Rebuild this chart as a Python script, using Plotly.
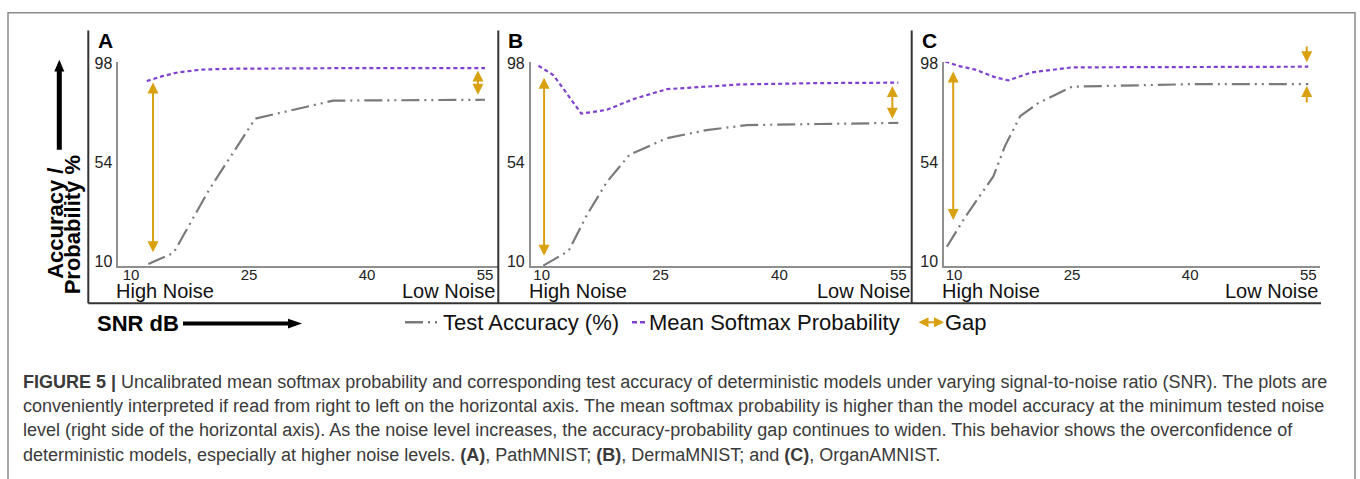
import plotly.graph_objects as go

W, H = 1360, 479

# ---------------- data ----------------
x_ticks = [10, 25, 40, 55]
y_ticks = [10, 54, 98]

# Panel A (PathMNIST)
acc_A_x = [12.2, 15.4, 20, 23, 25.8, 35.7, 45, 55]
acc_A_y = [8.9, 13.8, 42.4, 58.3, 73.6, 81.6, 81.8, 82.0]
prob_A_x = [12.0, 14, 16, 19, 23, 30, 40, 55]
prob_A_y = [90.3, 92.5, 94.2, 95.4, 95.8, 96.0, 96.1, 96.1]
gap_A_x = [12.8, 54.1]
gap_A_lo = [13.5, 83.6]
gap_A_hi = [89.7, 95.0]

# Panel B (DermaMNIST)
acc_B_x = [10.2, 13.4, 15.7, 18.2, 21.1, 25.8, 30.8, 35.9, 45, 55]
acc_B_y = [8.2, 14.7, 30.7, 45.3, 57.6, 64.9, 68.5, 70.7, 71.2, 71.7]
prob_B_x = [9.6, 11.5, 15, 18.2, 21.6, 25.8, 35, 45, 55]
prob_B_y = [97.1, 92.9, 75.8, 77.5, 82.3, 86.7, 88.8, 89.4, 89.6]
gap_B_x = [10.3, 54.25]
gap_B_lo = [11.9, 72.9]
gap_B_hi = [91.8, 88.1]

# Panel C (OrganAMNIST)
acc_C_x = [9.1, 11.4, 15, 16.5, 18.4, 20.7, 25, 39.8, 55]
acc_C_y = [16.6, 29.7, 47.9, 61.6, 74.7, 80.5, 87.8, 88.9, 88.9]
prob_C_x = [8.9, 10.5, 12.7, 15.2, 16.9, 19.9, 25, 40, 55]
prob_C_y = [99.0, 97.1, 95.4, 92.0, 90.6, 94.2, 96.4, 96.7, 96.7]
gap_C_x = [9.9, 54.8]
gap_C_lo = [27.8, 88.1]
gap_C_hi = [94.6, 98.7]

panel_letters = ["A", "B", "C"]
legend_labels = ["Test Accuracy (%)", "Mean Softmax Probability", "Gap"]
caption_lines = [
    "<b>FIGURE 5 |</b> Uncalibrated mean softmax probability and corresponding test accuracy of deterministic models under varying signal-to-noise ratio (SNR). The plots are",
    "conveniently interpreted if read from right to left on the horizontal axis. The mean softmax probability is higher than the model accuracy at the minimum tested noise",
    "level (right side of the horizontal axis). As the noise level increases, the accuracy-probability gap continues to widen. This behavior shows the overconfidence of",
    "deterministic models, especially at higher noise levels. <b>(A)</b>, PathMNIST; <b>(B)</b>, DermaMNIST; and <b>(C)</b>, OrganAMNIST.",
]

# ---------------- style ----------------
FONT = "Liberation Sans, Arial, Helvetica, sans-serif"
GRAY = "#7a7a7a"
PURPLE = "#8040d0"
GOLD = "#d9a00f"
ACC_DASH = "18px,5px,2px,5px,2px,5px"
PROB_DASH = "4px,3px"


def px(x):
    return x / W


def py(y):
    return 1 - y / H


# panel geometry in pixels: axis start, axis end, tick10 px, tick55 px, frame left
panels = [
    dict(a0=118.3, a1=497.5, t10=131.0, t55=485.0, frame=88.3),
    dict(a0=530.7, a1=911.7, t10=541.7, t55=898.3, frame=498.3),
    dict(a0=944.0, a1=1320.0, t10=954.0, t55=1308.3, frame=911.7),
]
Y_TOP, Y_BOT = 57.0, 265.7
Y98, Y10 = 59.0, 261.0
yscale = (Y10 - Y98) / 88.0
y_range = [10 - (Y_BOT - Y10) / yscale, 98 + (Y98 - Y_TOP) / yscale]

data = [
    (acc_A_x, acc_A_y, prob_A_x, prob_A_y, gap_A_x, gap_A_lo, gap_A_hi),
    (acc_B_x, acc_B_y, prob_B_x, prob_B_y, gap_B_x, gap_B_lo, gap_B_hi),
    (acc_C_x, acc_C_y, prob_C_x, prob_C_y, gap_C_x, gap_C_lo, gap_C_hi),
]

fig = go.Figure()
annotations = []
shapes = []

for i, (p, d) in enumerate(zip(panels, data)):
    sfx = "" if i == 0 else str(i + 1)
    xs = (p["t55"] - p["t10"]) / 45.0
    x_range = [10 - (p["t10"] - p["a0"]) / xs, 55 + (p["a1"] - p["t55"]) / xs]
    ax_common = dict(showgrid=False, zeroline=False, showline=True, linecolor="#8f8f8f",
                     linewidth=1.5, ticks="")
    fig.layout["xaxis" + sfx] = dict(domain=[px(p["a0"]), px(p["a1"])], range=x_range,
                                     tickvals=x_ticks, anchor="y" + sfx, ticklabelstandoff=-6,
                                     tickfont=dict(family=FONT, size=15, color="#222"),
                                     **ax_common)
    fig.layout["yaxis" + sfx] = dict(domain=[py(Y_BOT), py(Y_TOP)], range=y_range,
                                     tickvals=y_ticks, anchor="x" + sfx, ticklabelstandoff=1,
                                     tickfont=dict(family=FONT, size=16, color="#222"),
                                     **ax_common)
    ax_x, ax_y, pr_x, pr_y, g_x, g_lo, g_hi = d
    fig.add_trace(go.Scatter(x=ax_x, y=ax_y, mode="lines", xaxis="x" + sfx, yaxis="y" + sfx,
                             line=dict(color=GRAY, width=2.2, dash=ACC_DASH),
                             cliponaxis=False, showlegend=False, hoverinfo="skip"))
    fig.add_trace(go.Scatter(x=pr_x, y=pr_y, mode="lines", xaxis="x" + sfx, yaxis="y" + sfx,
                             line=dict(color=PURPLE, width=2.2, dash=PROB_DASH),
                             cliponaxis=False, showlegend=False, hoverinfo="skip"))
    xr, yr = "x" + sfx, "y" + sfx
    for k in range(len(g_x)):
        if i == 2 and k == 1:
            # inward-pointing pair of arrows
            annotations.append(dict(x=g_x[k], y=g_hi[k], ax=g_x[k], ay=g_hi[k] + 7.6,
                                    xref=xr, yref=yr, axref=xr, ayref=yr, text="", showarrow=True,
                                    arrowhead=2, arrowsize=1.1, arrowwidth=2, arrowcolor=GOLD))
            annotations.append(dict(x=g_x[k], y=g_lo[k], ax=g_x[k], ay=g_lo[k] - 8.0,
                                    xref=xr, yref=yr, axref=xr, ayref=yr, text="", showarrow=True,
                                    arrowhead=2, arrowsize=1.1, arrowwidth=2, arrowcolor=GOLD))
        else:
            annotations.append(dict(x=g_x[k], y=g_hi[k], ax=g_x[k], ay=g_lo[k],
                                    xref=xr, yref=yr, axref=xr, ayref=yr, text="", showarrow=True,
                                    arrowhead=2, startarrowhead=2, arrowside="end+start",
                                    arrowsize=1.1, startarrowsize=1.1, arrowwidth=2,
                                    arrowcolor=GOLD))
    # panel frame (left line)
    shapes.append(dict(type="line", xref="paper", yref="paper", x0=px(p["frame"]), x1=px(p["frame"]),
                       y0=py(25), y1=py(303.5), line=dict(color="#333", width=2)))
    # panel letter
    annotations.append(dict(x=px(p["frame"] + 8), y=py(35), xref="paper", yref="paper",
                            xanchor="left", yanchor="middle", showarrow=False,
                            text="<b>" + panel_letters[i] + "</b>",
                            font=dict(family=FONT, size=21, color="#000")))
    # noise labels
    annotations.append(dict(x=px(p["a0"] - 4), y=py(291), xref="paper", yref="paper",
                            xanchor="left", yanchor="middle", showarrow=False, text="High Noise",
                            font=dict(family=FONT, size=20, color="#111")))
    annotations.append(dict(x=px(p["a1"]), y=py(291), xref="paper", yref="paper",
                            xanchor="right", yanchor="middle", showarrow=False, text="Low Noise",
                            font=dict(family=FONT, size=20, color="#111")))

# bottom frame line of panels
shapes.append(dict(type="line", xref="paper", yref="paper", x0=px(88.3), x1=px(1321),
                   y0=py(303.5), y1=py(303.5), line=dict(color="#333", width=2)))
# outer frame
shapes.append(dict(type="rect", xref="paper", yref="paper", x0=px(8), x1=px(1355),
                   y0=py(7), y1=py(495), line=dict(color="#8a8a8a", width=1.5)))

# y-axis title (two lines) and up arrow
annotations.append(dict(x=px(56), y=py(222.5), xref="paper", yref="paper", textangle=-90,
                        xanchor="center", yanchor="middle", showarrow=False, text="<b>Accuracy /</b>",
                        font=dict(family=FONT, size=22, color="#000")))
annotations.append(dict(x=px(72.5), y=py(223.5), xref="paper", yref="paper", textangle=-90,
                        xanchor="center", yanchor="middle", showarrow=False, text="<b>Probability %</b>",
                        font=dict(family=FONT, size=22, color="#000")))


def path_paper(points):
    return "M " + " L ".join(f"{px(a):.6f},{py(b):.6f}" for a, b in points) + " Z"


up_arrow = [(56.8, 146.7), (56.8, 67), (54.3, 67), (59.3, 55), (64.3, 67), (61.8, 67), (61.8, 146.7)]
shapes.append(dict(type="path", xref="paper", yref="paper", path=path_paper(up_arrow),
                   fillcolor="#000", line=dict(width=0)))
snr_arrow = [(183, 322.3), (288, 322.3), (288, 319.3), (302, 324.3), (288, 329.3), (288, 326.3), (183, 326.3)]
shapes.append(dict(type="path", xref="paper", yref="paper", path=path_paper(snr_arrow),
                   fillcolor="#000", line=dict(width=0)))
annotations.append(dict(x=px(95), y=py(324), xref="paper", yref="paper", xanchor="left",
                        yanchor="middle", showarrow=False, text="<b>SNR dB</b>",
                        font=dict(family=FONT, size=22, color="#000")))

# legend (manual)
shapes.append(dict(type="line", xref="paper", yref="paper", x0=px(405), x1=px(442),
                   y0=py(323), y1=py(323), line=dict(color=GRAY, width=2.5, dash=ACC_DASH)))
annotations.append(dict(x=px(441), y=py(323), xref="paper", yref="paper", xanchor="left",
                        yanchor="middle", showarrow=False, text=legend_labels[0],
                        font=dict(family=FONT, size=22, color="#111")))
shapes.append(dict(type="line", xref="paper", yref="paper", x0=px(632), x1=px(648),
                   y0=py(323), y1=py(323), line=dict(color=PURPLE, width=2.5, dash="5px,3px")))
annotations.append(dict(x=px(647), y=py(323), xref="paper", yref="paper", xanchor="left",
                        yanchor="middle", showarrow=False, text=legend_labels[1],
                        font=dict(family=FONT, size=22, color="#111")))
annotations.append(dict(x=px(944), y=py(323), ax=-27, ay=0, xref="paper", yref="paper",
                        text="", showarrow=True, arrowhead=2, startarrowhead=2,
                        arrowside="end+start", arrowsize=1.0, startarrowsize=1.0,
                        arrowwidth=2, arrowcolor=GOLD))
annotations.append(dict(x=px(943), y=py(323), xref="paper", yref="paper", xanchor="left",
                        yanchor="middle", showarrow=False, text=legend_labels[2],
                        font=dict(family=FONT, size=22, color="#111")))

# caption
cap_y = [384, 408.5, 433.5, 458.5]
for line, yy in zip(caption_lines, cap_y):
    annotations.append(dict(x=px(21), y=py(yy), xref="paper", yref="paper", xanchor="left",
                            yanchor="middle", showarrow=False, text=line,
                            font=dict(family=FONT, size=18, color="#3a3a3a")))

fig.update_layout(width=W, height=H, margin=dict(l=0, r=0, t=0, b=0),
                  paper_bgcolor="white", plot_bgcolor="white", showlegend=False,
                  hovermode=False, annotations=annotations, shapes=shapes)

fig.write_html("out.html", config={"displayModeBar": False},
               post_script="document.body.style.margin='0';document.body.style.overflow='hidden';")
